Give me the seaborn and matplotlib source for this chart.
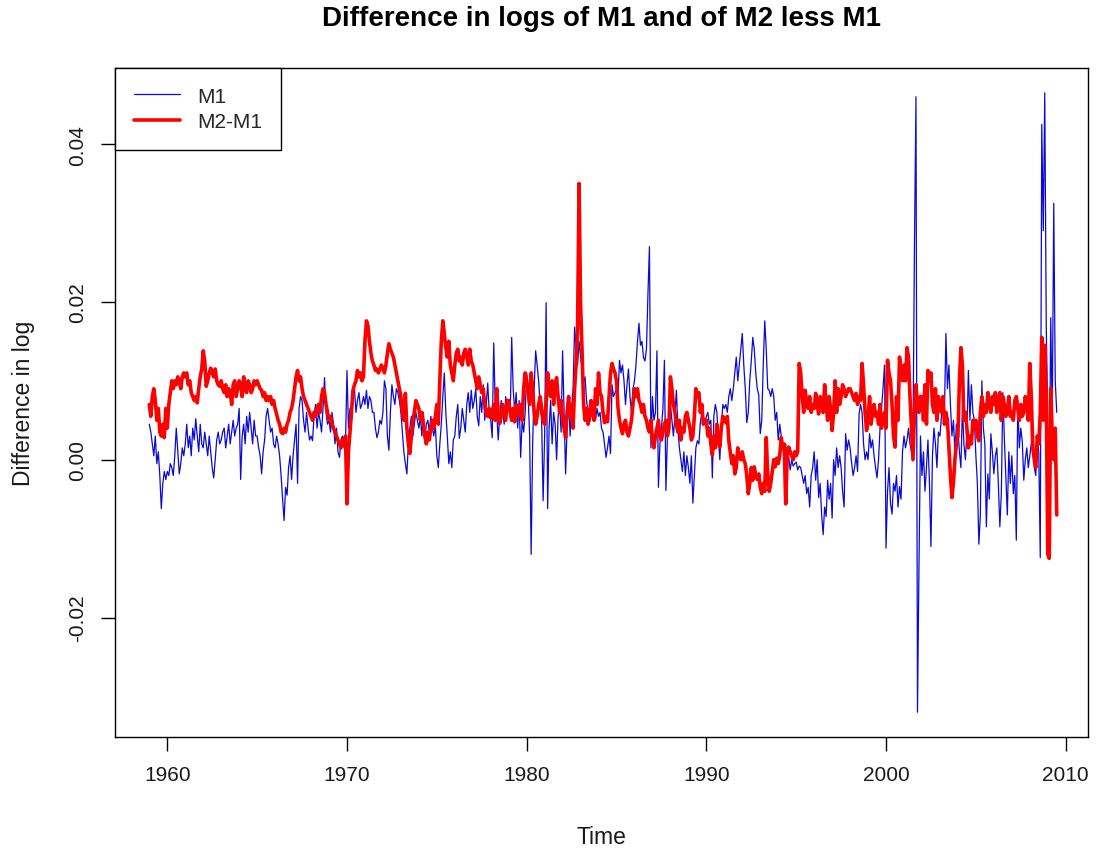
import numpy as np
import pandas as pd
import matplotlib
matplotlib.use("Agg")
import matplotlib.pyplot as plt
import seaborn as sns

# Monthly change in log M1 (units of 0.001), Jan 1959 onward
m1 = [
    4.5, 3.5, 2.0, 0.5, 3.0, -0.5, 1.0, -2.0, -6.2, -3.0, -1.5, -2.5,      # 1959
    -1.5, -2.0, -0.5, -1.0, -2.0, 0.5, 4.0, 1.0, -1.8, -0.5, 1.5, 0.5,     # 1960
    2.0, 4.5, 1.5, 3.0, 0.5, 4.0, 2.5, 5.2, 3.0, 1.0, 4.5, 2.0,            # 1961
    1.5, 3.5, 2.0, 0.5, 3.0, 1.0, -1.0, -2.3, 0.0, 2.5, 3.5, 2.0,          # 1962
    2.5, 3.5, 4.0, 1.5, 3.0, 4.5, 2.0, 3.5, 5.0, 3.0, 4.0, 4.5,            # 1963
    6.5, -2.5, 3.0, 4.5, 2.0, 5.5, 3.5, 6.0, 4.0, 2.0, 5.0, 3.0,           # 1964
    3.0, 1.5, 0.5, -1.8, 1.0, 2.5, 5.5, 6.5, 5.0, 3.5, 4.0, 2.0,           # 1965
    1.5, 3.0, 2.0, 0.5, -2.0, -5.0, -7.7, -3.5, -4.5, -1.0, 0.5, -2.5,     # 1966
    0.5, 2.5, 4.5, -3.0, 6.5, 8.0, 7.5, 5.0, 3.5, 6.0, 4.0, 2.5,           # 1967
    3.0, 2.4, 5.5, 7.0, 4.0, 6.0, 5.0, 3.5, 6.5, 10.4, 6.0, 4.5,           # 1968
    5.0, 3.5, 6.0, 4.5, 2.0, 4.0, 1.0, 0.3, 2.5, 3.0, 1.5, 2.0,            # 1969
    11.3, 4.0, 6.5, 5.0, 8.0, 9.0, 6.0, 7.5, 8.5, 6.5, 7.0, 8.0,           # 1970
    7.0, 8.8, 6.5, 8.0, 7.5, 6.0, 6.0, 4.0, 2.8, 3.5, 5.0, 4.5,            # 1971
    6.0, 10.0, 9.0, 3.0, 1.2, 6.0, 9.5, 8.0, 7.0, 9.0, 8.5, 7.5,           # 1972
    6.0, 3.5, 1.0, -0.5, -1.8, 2.0, 4.0, 5.5, 3.0, 4.5, 6.0, 5.0,          # 1973
    4.0, 5.5, 3.0, 6.0, 2.5, 4.5, 5.0, 3.5, 5.5, 4.0, 3.0, 4.5,            # 1974
    0.5, -1.0, 2.0, 4.5, 8.0, 11.0, 6.0, 3.0, -0.5, 1.0, -1.0, 2.5,        # 1975
    3.0, 5.5, 7.0, 2.7, 4.0, 6.5, 5.0, 3.5, 7.0, 8.5, 6.0, 8.8,            # 1976
    6.5, 7.5, 9.0, 5.5, 4.3, 8.0, 6.0, 9.5, 5.0, 7.0, 9.7, 6.0,            # 1977
    5.0, 2.8, 14.8, 7.0, 6.0, 2.5, 5.5, 7.5, 6.0, 4.5, 8.0, 6.5,           # 1978
    7.0, 5.5, 15.5, 9.0, 6.0, 8.5, 4.0, 7.5, 0.3, 5.0, 3.5, 6.0,           # 1979
    11.0, 8.0, 3.0, -12.0, 2.0, 9.0, 13.8, 12.0, 10.0, 7.0, 5.0, -5.2,     # 1980
    3.0, 19.9, -6.2, 4.0, 7.5, 2.0, 6.0, 4.5, 0.0, 5.5, 7.0, 3.5,          # 1981
    13.8, 6.0, -1.8, 4.0, 8.0, 3.0, 6.5, 9.0, 16.8, 14.2, 12.0, 15.0,      # 1982
    13.0, 11.5, 9.8, 10.5, 7.5, 6.0, 4.8, 5.5, 7.0, 6.0, 5.0, 6.5,         # 1983
    5.5, 6.0, 4.0, 3.5, 2.0, 0.3, 1.5, 3.0, 0.8, 9.5, 8.0, 8.5,            # 1984
    9.0, 8.0, 12.6, 11.0, 12.0, 10.0, 7.0, 9.5, 11.5, 8.0, 6.0, 9.0,       # 1985
    10.0, 12.0, 15.0, 17.3, 14.5, 15.0, 13.0, 12.5, 14.0, 21.0, 27.0, 1.5, # 1986
    8.0, 5.0, 6.0, 13.8, -3.5, 2.0, 4.0, 6.5, 12.6, -3.9, 3.0, 5.0,        # 1987
    7.0, 5.0, 3.0, 5.5, 8.8, 4.0, 1.5, 0.0, -1.5, 1.0, -2.0, 0.5,          # 1988
    -1.0, -3.0, 0.5, -5.5, -2.0, 1.5, 2.4, 2.0, 4.7, 6.0, 5.0, 4.5,        # 1989
    5.5, 6.0, 4.5, 5.0, -2.3, 5.5, 7.0, 6.0, 3.0, 0.0, 4.0, 7.0,           # 1990
    6.5, 7.0, 6.0, 8.0, 9.0, 7.5, 9.0, 11.0, 13.0, 10.0, 12.0, 14.0,       # 1991
    16.0, 12.0, 9.0, 4.7, 6.0, 10.0, 12.5, 15.5, 14.0, 11.0, 9.0, 8.2,     # 1992
    3.3, 5.0, 12.0, 17.6, 14.0, 9.0, 8.8, 8.0, 9.0, 8.0, 5.0, 6.0,         # 1993
    2.5, 4.5, 3.0, 1.5, 0.4, 2.0, -0.5, 0.4, -1.3, 0.0, -0.8, -0.5,        # 1994
    -0.3, -1.3, -0.8, -1.0, -2.0, -3.0, -2.0, -4.3, -3.5, -6.0, -2.0, -1.0, # 1995
    1.0, -2.6, 0.0, -4.8, -3.0, -7.0, -9.5, -6.0, -7.2, -2.6, -5.0, -3.0,  # 1996
    -7.4, 0.0, -2.0, 1.5, -1.0, 0.5, -1.0, -4.0, -6.0, 3.3, 1.2, 2.5,      # 1997
    1.5, -0.4, -2.0, -1.0, 0.5, -1.5, 5.8, 7.0, 6.0, 2.0, 0.0, 1.0,        # 1998
    0.0, 3.3, 1.5, 2.5, 0.5, -1.0, -2.3, 0.0, 4.0, 6.6, 9.1, 12.0,         # 1999
    -11.2, -4.0, -1.0, -5.5, -6.9, -3.0, -4.0, -2.0, -6.0, -3.4, -5.0, 1.0, # 2000
    3.0, 1.5, 2.5, 4.0, 2.0, 1.0, 3.0, 27.5, 46.0, -32.0, -13.5, 3.0,      # 2001
    -2.0, 1.0, -4.0, -1.0, 2.5, -3.0, -11.0, 0.5, 4.0, 2.0, -1.0, 3.5,     # 2002
    3.0, 5.5, 8.0, 6.0, 16.0, 9.0, 12.0, 7.0, 3.0, 5.0, 1.0, 4.5,          # 2003
    4.0, 1.0, -1.0, 6.6, 2.0, 0.0, 3.5, 11.3, 5.0, 9.5, 6.0, 5.0,          # 2004
    0.5, -3.0, -10.7, -7.0, 10.0, 4.0, 2.0, -8.5, -1.8, -5.0, 3.3, 1.0,    # 2005
    -1.8, 0.5, 1.5, -3.0, -8.5, -4.3, 8.5, 2.8, -2.0, -7.0, 1.0, -3.0,     # 2006
    0.5, -4.3, -2.0, -10.2, 7.5, 1.5, 4.0, 2.3, -2.6, 0.0, 1.5, -1.0,      # 2007
    0.5, 2.0, 4.0, -1.0, -2.0, 3.0, 1.0, -12.4, 42.5, 29.0, 46.5, 17.0,    # 2008
    5.0, -4.0, 18.0, 5.0, 32.5, 10.0, 6.0,                                 # 2009
]

# Monthly change in log of M2 less M1 (units of 0.001), Jan 1959 onward
m2_less_m1 = [
    7.0, 5.5, 8.0, 9.0, 7.5, 5.0, 6.5, 3.5, 3.0, 4.5, 2.8, 6.5,            # 1959
    4.0, 7.0, 8.5, 10.0, 9.0, 10.0, 9.5, 10.5, 10.0, 9.0, 10.5, 11.0,      # 1960
    10.5, 11.0, 9.5, 10.0, 8.5, 8.0, 7.5, 8.0, 7.2, 9.0, 10.5, 11.5,       # 1961
    13.8, 12.5, 9.3, 10.0, 11.0, 11.6, 11.0, 10.5, 11.5, 10.0, 9.5, 9.3,   # 1962
    10.0, 9.0, 8.5, 9.5, 8.0, 9.0, 8.5, 7.0, 9.5, 10.0, 8.0, 9.0,          # 1963
    10.0, 9.5, 8.0, 10.5, 9.0, 8.5, 10.0, 9.5, 8.5, 9.0, 10.0, 9.5,        # 1964
    10.0, 9.5, 9.0, 8.8, 8.0, 8.5, 7.5, 8.0, 7.5, 8.0, 7.0, 7.5,           # 1965
    6.5, 5.8, 5.0, 4.5, 3.5, 3.3, 4.0, 3.5, 4.5, 5.0, 6.0, 6.5,            # 1966
    7.5, 9.0, 10.5, 11.3, 10.0, 10.5, 9.0, 8.0, 7.5, 7.0, 6.5, 6.0,        # 1967
    5.5, 5.0, 6.0, 5.5, 6.5, 7.0, 6.0, 8.0, 9.0, 8.5, 7.0, 6.0,            # 1968
    5.0, 5.5, 4.5, 4.0, 3.5, 3.0, 2.5, 2.0, 1.5, 2.5, 2.0, 3.0,            # 1969
    -5.6, 1.0, 3.5, 6.0, 8.8, 9.5, 10.0, 11.3, 10.5, 11.0, 10.0, 10.5,     # 1970
    15.0, 17.6, 17.0, 15.0, 13.5, 12.5, 12.0, 11.3, 11.5, 11.0, 11.5, 12.0, # 1971
    11.5, 11.0, 12.0, 13.5, 14.7, 14.0, 13.5, 13.0, 12.0, 11.0, 10.0, 9.0, # 1972
    8.0, 6.0, 5.0, 8.4, 4.0, 2.0, 0.8, 3.0, 5.0, 6.0, 7.5, 7.0,            # 1973
    6.5, 5.0, 6.0, 4.5, 3.0, 2.0, 3.5, 2.5, 4.0, 5.0, 4.0, 5.5,            # 1974
    7.0, 4.5, 10.0, 15.0, 17.6, 16.0, 14.2, 13.0, 15.0, 12.0, 11.0, 10.0,  # 1975
    12.0, 13.5, 14.0, 12.5, 13.0, 12.0, 13.5, 14.0, 13.0, 12.0, 14.0, 12.5, # 1976
    12.0, 11.0, 10.0, 9.0, 10.5, 9.5, 8.5, 9.0, 7.0, 6.0, 5.5, 6.5,        # 1977
    5.3, 6.0, 7.0, 5.0, 9.0, 6.0, 4.6, 5.5, 7.0, 6.0, 5.0, 7.5,            # 1978
    7.5, 6.0, 5.0, 6.5, 4.8, 7.0, 6.0, 5.5, 7.0, 5.0, 9.0, 11.0,           # 1979
    10.0, 8.5, 7.0, 11.0, 9.0, 6.0, 4.5, 5.5, 7.0, 8.0, 6.5, 5.0,          # 1980
    4.5, 7.0, 11.0, 9.0, 8.0, 10.0, 7.0, 9.5, 10.4, 8.0, 6.0, 7.5,         # 1981
    5.0, 4.0, 2.8, 6.0, 8.0, 5.5, 7.0, 4.0, 9.0, 12.0, 16.8, 35.0,         # 1982
    19.8, 13.8, 7.0, 5.0, 6.5, 4.5, 5.5, 7.5, 6.0, 5.0, 9.0, 7.0,          # 1983
    11.0, 8.5, 8.0, 6.0, 4.7, 5.5, 4.8, 8.0, 11.0, 12.2, 11.5, 11.0,       # 1984
    10.0, 6.6, 5.0, 4.0, 3.3, 4.5, 5.0, 3.5, 3.0, 4.0, 5.0, 7.0,           # 1985
    9.0, 8.0, 9.0, 7.5, 7.0, 6.0, 7.0, 5.5, 5.0, 4.0, 3.5, 5.0,            # 1986
    2.5, 1.5, 3.0, 4.0, 5.0, 3.0, 2.5, 3.5, 4.5, 5.0, 3.0, 4.0,            # 1987
    10.5, 9.0, 7.0, 6.0, 4.5, 3.5, 5.0, 2.5, 4.0, 3.5, 5.5, 6.0,           # 1988
    5.0, 4.0, 2.5, 3.0, 5.5, 9.0, 8.0, 8.5, 6.0, 7.0, 4.5, 5.0,            # 1989
    5.0, 3.0, 4.0, 2.0, 0.6, 3.0, 1.5, 4.5, 2.5, 1.6, 4.0, 5.5,            # 1990
    5.0, 4.7, 5.5, 2.4, 1.0, -0.5, 0.5, -1.8, -1.0, 1.5, 0.5, 0.0,         # 1991
    1.0, 0.0, -0.5, -2.0, -4.3, -3.0, -1.0, -2.6, -0.9, -2.0, -2.5, -1.8,  # 1992
    -3.5, -4.3, -3.0, -4.0, 2.8, -2.0, -4.0, -3.0, -1.5, 0.0, -0.9, 0.2,   # 1993
    -0.5, 0.5, 2.8, 1.6, 2.0, -5.6, 0.5, 1.6, 1.0, 0.5, 0.0, 1.0,          # 1994
    0.5, 1.0, 12.2, 11.0, 8.0, 6.0, 8.8, 7.0, 6.5, 8.0, 6.0, 7.0,          # 1995
    6.5, 8.4, 7.0, 5.8, 8.0, 7.5, 6.0, 9.5, 7.0, 5.0, 8.0, 6.5,            # 1996
    3.7, 6.0, 10.0, 6.0, 9.0, 7.0, 8.0, 9.5, 9.0, 8.0, 8.5, 9.0,           # 1997
    9.0, 8.5, 8.0, 7.5, 8.4, 7.0, 8.0, 7.5, 12.2, 9.5, 6.0, 3.7,           # 1998
    5.0, 8.0, 4.5, 6.0, 7.0, 5.5, 6.0, 4.5, 7.0, 4.0, 5.0, 6.0,            # 1999
    4.0, 12.6, 11.0, 10.0, 7.0, 3.0, 1.6, 8.0, 5.0, 13.0, 11.0, 10.0,      # 2000
    12.0, 10.0, 14.2, 13.0, 8.0, 4.0, 0.0, 6.0, 9.5, 7.0, 6.0, 8.0,        # 2001
    8.0, 5.0, 9.5, 4.5, 11.3, 10.0, 11.0, 7.0, 6.0, 9.0, 5.0, 8.0,         # 2002
    7.0, 6.0, 8.0, 4.5, 6.0, 5.0, 1.5, -2.0, -4.8, -3.0, 0.0, 2.0,         # 2003
    3.0, 10.0, 14.2, 12.0, 5.0, 6.0, 4.0, 1.5, 3.0, 2.0, 5.0, 4.0,         # 2004
    5.0, 3.0, 2.4, 6.0, 8.0, 5.5, 7.0, 6.0, 8.5, 7.0, 6.0, 8.0,            # 2005
    7.0, 8.5, 6.0, 7.5, 8.5, 5.0, 8.0, 7.0, 5.5, 6.0, 8.0, 5.5,            # 2006
    6.0, 5.0, 7.5, 8.0, 6.5, 5.0, 7.0, 5.5, 6.0, 8.0, 7.0, 5.0,            # 2007
    12.2, 8.0, 1.5, 0.0, -1.0, 3.0, 2.0, 6.0, 15.5, 5.0, 14.5, 8.0,        # 2008
    -12.0, -12.5, 9.0, 3.0, 0.0, 4.0, -7.0,                                # 2009
]

start_year = 1959
x_ticks = [1960, 1970, 1980, 1990, 2000, 2010]
y_ticks = [-0.02, 0.00, 0.02, 0.04]
y_tick_labels = ["-0.02", "0.00", "0.02", "0.04"]

time = start_year + np.arange(len(m1)) / 12.0
df = pd.DataFrame({
    "Time": time,
    "M1": np.array(m1) / 1000.0,
    "M2-M1": np.array(m2_less_m1) / 1000.0,
})

sns.set_theme(style="white")
plt.rcParams["font.family"] = ["Liberation Sans", "DejaVu Sans"]

fig = plt.figure(figsize=(10.98, 8.54), dpi=100)
ax = fig.add_axes([115 / 1098, 1 - 738 / 854, (1088 - 115) / 1098, (738 - 69) / 854])

sns.lineplot(data=df, x="Time", y="M1", color="#0a0ad2", linewidth=0.9,
             ax=ax, label="M1", estimator=None)
sns.lineplot(data=df, x="Time", y="M2-M1", color="#ff0000", linewidth=2.6,
             ax=ax, label="M2-M1", estimator=None)

# Vertical range: data range padded by 4% on each side
lo = min(df["M1"].min(), df["M2-M1"].min())
hi = max(df["M1"].max(), df["M2-M1"].max())
pad = 0.04 * (hi - lo)
ax.set_ylim(lo - pad, hi + pad)
ax.set_xlim(1957.09, 2011.24)

ax.set_xticks(x_ticks)
ax.set_xticklabels([str(v) for v in x_ticks])
ax.set_yticks(y_ticks)
ax.set_yticklabels(y_tick_labels, rotation=90, va="center")

fs = 15
ax.tick_params(axis="both", which="major", direction="out", length=10, width=1,
               color="black", labelsize=fs, labelcolor="#1a1a1a", pad=10,
               bottom=True, left=True)
for s in ax.spines.values():
    s.set_visible(True)
    s.set_color("black")
    s.set_linewidth(1.0)

ax.set_xlabel("Time", fontsize=16.5, color="#1a1a1a", labelpad=30)
ax.set_ylabel("Difference in log", fontsize=16.5, color="#1a1a1a", labelpad=24)
fig.suptitle("Difference in logs of M1 and of M2 less M1", x=(115 + 1088) / 2 / 1098,
             y=1 - 19 / 854, va="center", fontsize=20, fontweight="bold",
             color="black")

leg = ax.legend(loc="upper left", bbox_to_anchor=(0, 1), borderaxespad=0,
                frameon=True, fancybox=False, edgecolor="black", framealpha=1,
                fontsize=fs, handlelength=2.2, handletextpad=0.85,
                borderpad=0.9, labelspacing=0.3)
leg.get_frame().set_linewidth(1.0)

fig.savefig("out.png", dpi=100)
